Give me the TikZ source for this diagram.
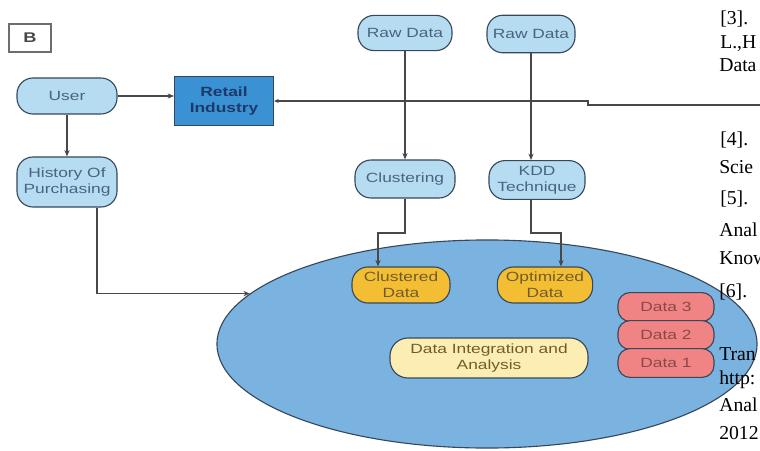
\documentclass[tikz,border=0pt]{standalone}
\usepackage{fontspec}
\setmainfont{Liberation Serif}
\newfontfamily\labelfont[FakeStretch=1.3]{Liberation Sans}
\usetikzlibrary{positioning,arrows.meta,shapes.geometric}
\definecolor{EdgeSlate}{RGB}{55,72,92}
\definecolor{LineGray}{RGB}{72,72,72}
\definecolor{PaleBlue}{RGB}{182,220,242}
\definecolor{LabelBlue}{RGB}{72,100,130}
\definecolor{RetailBlue}{RGB}{58,146,212}
\definecolor{RetailText}{RGB}{28,58,105}
\definecolor{PoolBlue}{RGB}{122,178,224}
\definecolor{GoldFill}{RGB}{244,190,52}
\definecolor{GoldText}{RGB}{112,92,40}
\definecolor{SalmonFill}{RGB}{240,132,132}
\definecolor{SalmonText}{RGB}{140,72,72}
\definecolor{CreamFill}{RGB}{252,238,178}
\tikzset{
  link/.style={draw=LineGray,line width=0.8pt},
  flow/.style={link,-{Stealth[length=1.6mm,width=1.3mm]}},
  backflow/.style={link,{Stealth[length=1.2mm,width=1mm]}-},
  pill/.style={draw=EdgeSlate,line width=0.8pt,fill=PaleBlue,rounded corners=0.4cm,
    align=center,inner sep=1pt,text=LabelBlue,
    font=\labelfont\fontsize{9.5pt}{11.5pt}\selectfont},
  goldpill/.style={pill,fill=GoldFill,text=GoldText},
  stackpill/.style={pill,fill=SalmonFill,text=SalmonText,rounded corners=0.3cm,
    minimum width=2.4cm,minimum height=0.72cm},
  creampill/.style={pill,fill=CreamFill,text=GoldText,rounded corners=0.45cm},
  retailbox/.style={draw=EdgeSlate,line width=0.8pt,fill=RetailBlue,align=center,
    text=RetailText,font=\labelfont\bfseries\fontsize{9.5pt}{11.5pt}\selectfont},
  pool/.style={ellipse,draw=EdgeSlate,line width=0.8pt,fill=PoolBlue,inner sep=0pt},
  tagbox/.style={draw=LineGray!80,line width=1.6pt,fill=white,
    font=\labelfont\bfseries\fontsize{10pt}{12pt}\selectfont,
    text=LineGray,minimum width=1.05cm,minimum height=0.7cm},
  reftext/.style={anchor=base west,inner sep=0pt,font=\fontsize{14pt}{16pt}\selectfont}
}

\begin{document}
\begin{tikzpicture}[x=0.025cm,y=-0.025cm]
  \path[use as bounding box] (0,0) rectangle (760,451);
  \clip (0,0) rectangle (760,451);

  % shared pool
  \node[pool,minimum width=13.5cm,minimum height=5.2cm] (pool) at (487,344) {};

  \node[tagbox] (tag) at (30,38) {B};
  \node[pill,minimum width=2.5cm,minimum height=0.9cm] (user) at (67,96) {User};
  \node[retailbox,minimum width=2.47cm,minimum height=1.22cm] (retail) at (224,101) {Retail\\Industry};
  \node[pill,minimum width=2.5cm,minimum height=1.25cm] (hist) at (67,182) {History Of\\Purchasing};

  \node[pill,minimum width=2.35cm,minimum height=0.88cm] (rawa) at (405,33) {Raw Data};
  \node[pill,minimum width=2.2cm,minimum height=0.94cm] (rawb) at (531,34) {Raw Data};
  \node[pill,minimum width=2.5cm,minimum height=0.95cm] (clust) at (405,179) {Clustering};
  \node[pill,minimum width=2.4cm,minimum height=0.97cm] (kdd) at (537,180) {KDD\\Technique};

  \node[goldpill,minimum width=2.45cm,minimum height=0.9cm] (cdata) at (401,285) {Clustered\\Data};
  \node[goldpill,minimum width=2.38cm,minimum height=0.9cm] (odata) at (545,285) {Optimized\\Data};
  \node[creampill,minimum width=4.95cm,minimum height=1.0cm] (integ) at (489,358) {Data Integration and\\Analysis};

  \node[stackpill] (dthree) at (666,307) {Data 3};
  \node[stackpill] (dtwo) at (666,335) {Data 2};
  \node[stackpill] (done) at (666,363) {Data 1};

  % connectors
  \coordinate (jog) at (588,105);
  \coordinate (rightend) at (762,105);
  \coordinate (hturn) at (97,0);
  \coordinate (cjog) at (378,233);
  \coordinate (ojog) at (561,233);
  \draw[flow] (user.east) -- (user.east -| retail.west);
  \draw[flow] (user) -- (hist);
  \draw[backflow] (retail.east) -- (retail.east -| jog) -- (jog) -- (rightend);
  \draw[flow] (hist.south -| hturn) |- (pool.168);
  \draw[flow] (rawa) -- (clust);
  \draw[flow] (rawb.south) -- (rawb.south |- kdd.north);
  \draw[flow] (clust.south) |- (cjog) -- (cjog |- cdata.north);
  \draw[flow] (kdd.south -| rawb.south) |- (ojog) -- (ojog |- odata.north);

  % text of the page beside the figure
  \foreach \px/\py/\word [count=\n] in {720/25/{[3].},720/49/{L.,H},719/72/{Data},
      720/146/{[4].},719/174/{Scie},720/205/{[5].},719/237/{Anal},719/265/{Know},
      719/298/{[6].},719/360/{Tran},719/384/{http:},719/411/{Anal},719/439/{2012}}
    \node[reftext] (ref\n) at (\px,\py) {\word};
\end{tikzpicture}
\end{document}
